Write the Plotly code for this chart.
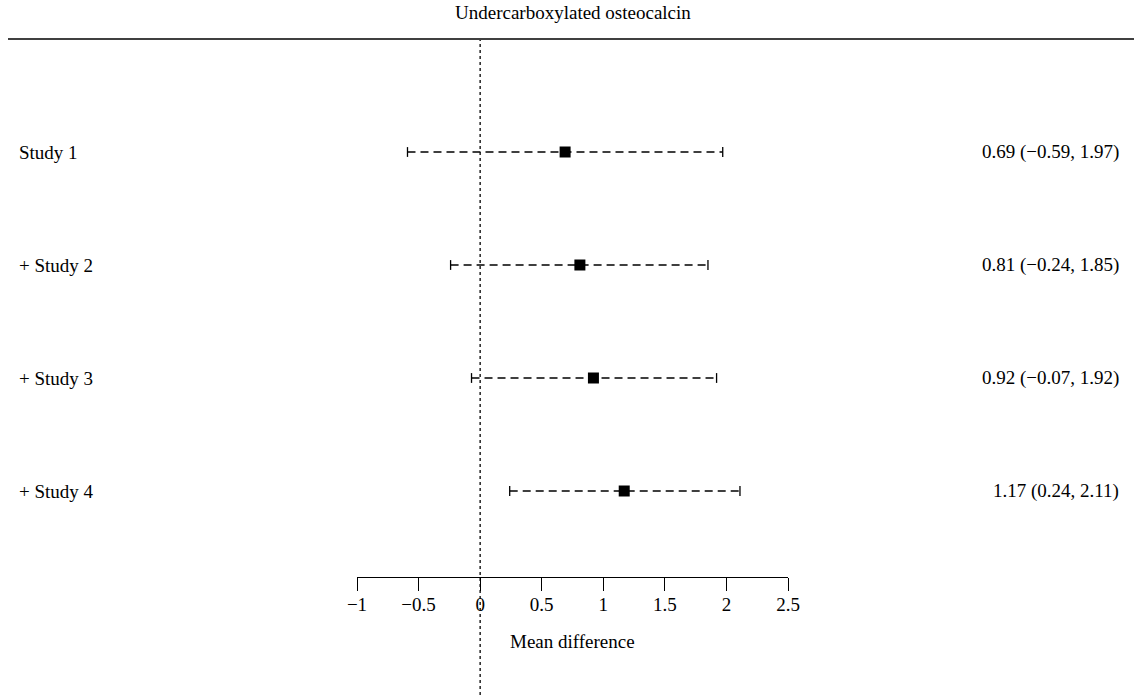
import plotly.graph_objects as go

studies = ["Study 1", "+ Study 2", "+ Study 3", "+ Study 4"]
mean_diff = [0.69, 0.81, 0.92, 1.17]
ci_low = [-0.59, -0.24, -0.07, 0.24]
ci_high = [1.97, 1.85, 1.92, 2.11]
ci_labels = ["0.69 (\u22120.59, 1.97)", "0.81 (\u22120.24, 1.85)",
             "0.92 (\u22120.07, 1.92)", "1.17 (0.24, 2.11)"]
tick_vals = [-1, -0.5, 0, 0.5, 1, 1.5, 2, 2.5]
tick_text = ["\u22121", "\u22120.5", "0", "0.5", "1", "1.5", "2", "2.5"]
title_text = "Undercarboxylated osteocalcin"
x_title = "Mean difference"

W, H = 1134, 695
FONT = "Liberation Serif"
FS = 19

n = len(studies)
ypos = [n - i for i in range(n)]

fig = go.Figure()

for i in range(n):
    fig.add_trace(go.Scatter(
        x=[ci_low[i], ci_high[i]], y=[ypos[i], ypos[i]],
        mode="lines+markers",
        line=dict(color="black", width=1.3, dash="8px,5px"),
        marker=dict(symbol="line-ns-open", size=7, line=dict(color="black", width=1.3)),
        showlegend=False, hoverinfo="skip"))

fig.add_trace(go.Scatter(
    x=mean_diff, y=ypos, mode="markers",
    marker=dict(symbol="square", size=11, color="black"),
    showlegend=False))

# dotted reference line at zero
fig.add_shape(type="line", xref="x", yref="paper", x0=0, x1=0,
              y0=0, y1=1 - 40 / H, line=dict(color="black", width=1.3, dash="dot"))
# top rule
fig.add_shape(type="line", xref="paper", yref="paper", x0=8 / W, x1=1,
              y0=1 - 39 / H, y1=1 - 39 / H, line=dict(color="black", width=1.5))

for i in range(n):
    fig.add_annotation(x=17 / W, y=ypos[i], xref="paper", yref="y",
                       text=studies[i], showarrow=False, xanchor="left",
                       font=dict(family=FONT, size=FS, color="black"))
    fig.add_annotation(x=1121 / W, y=ypos[i], xref="paper", yref="y",
                       text=ci_labels[i], showarrow=False, xanchor="right",
                       font=dict(family=FONT, size=FS, color="black"))

fig.add_annotation(x=573 / W, y=1 - 13 / H, xref="paper", yref="paper",
                   text=title_text, showarrow=False, xanchor="center", yanchor="middle",
                   font=dict(family=FONT, size=FS, color="black"))
fig.add_annotation(x=0.75, y=1 - 641 / H, xref="x", yref="paper",
                   text=x_title, showarrow=False, xanchor="center", yanchor="middle",
                   font=dict(family=FONT, size=FS, color="black"))

# y mapping: row 4 at px 152, row 1 at px 491
unit = (491 - 152) / 3
ytop = 4 + 152 / unit
ybot = 1 - (H - 491) / unit

fig.update_layout(
    width=W, height=H, autosize=False,
    margin=dict(l=0, r=0, t=0, b=0, pad=0, autoexpand=False),
    paper_bgcolor="white", plot_bgcolor="white",
    font=dict(family=FONT, size=FS, color="black"),
    xaxis=dict(domain=[357 / W, 788 / W], range=[-1, 2.5],
               anchor="free", position=1 - 577 / H,
               showline=True, linecolor="black", linewidth=1.3,
               ticks="outside", ticklen=13, tickwidth=1.3, tickcolor="black",
               tickvals=tick_vals, ticktext=tick_text, ticklabelstandoff=-3,
               showgrid=False, zeroline=False,
               tickfont=dict(family=FONT, size=FS, color="black")),
    yaxis=dict(domain=[0, 1], range=[ybot, ytop], visible=False,
               showgrid=False, zeroline=False),
)

fig.write_html("out.html",
               config={"responsive": False, "displayModeBar": False},
               post_script="document.body.style.margin='0px';document.body.style.overflow='hidden';")
